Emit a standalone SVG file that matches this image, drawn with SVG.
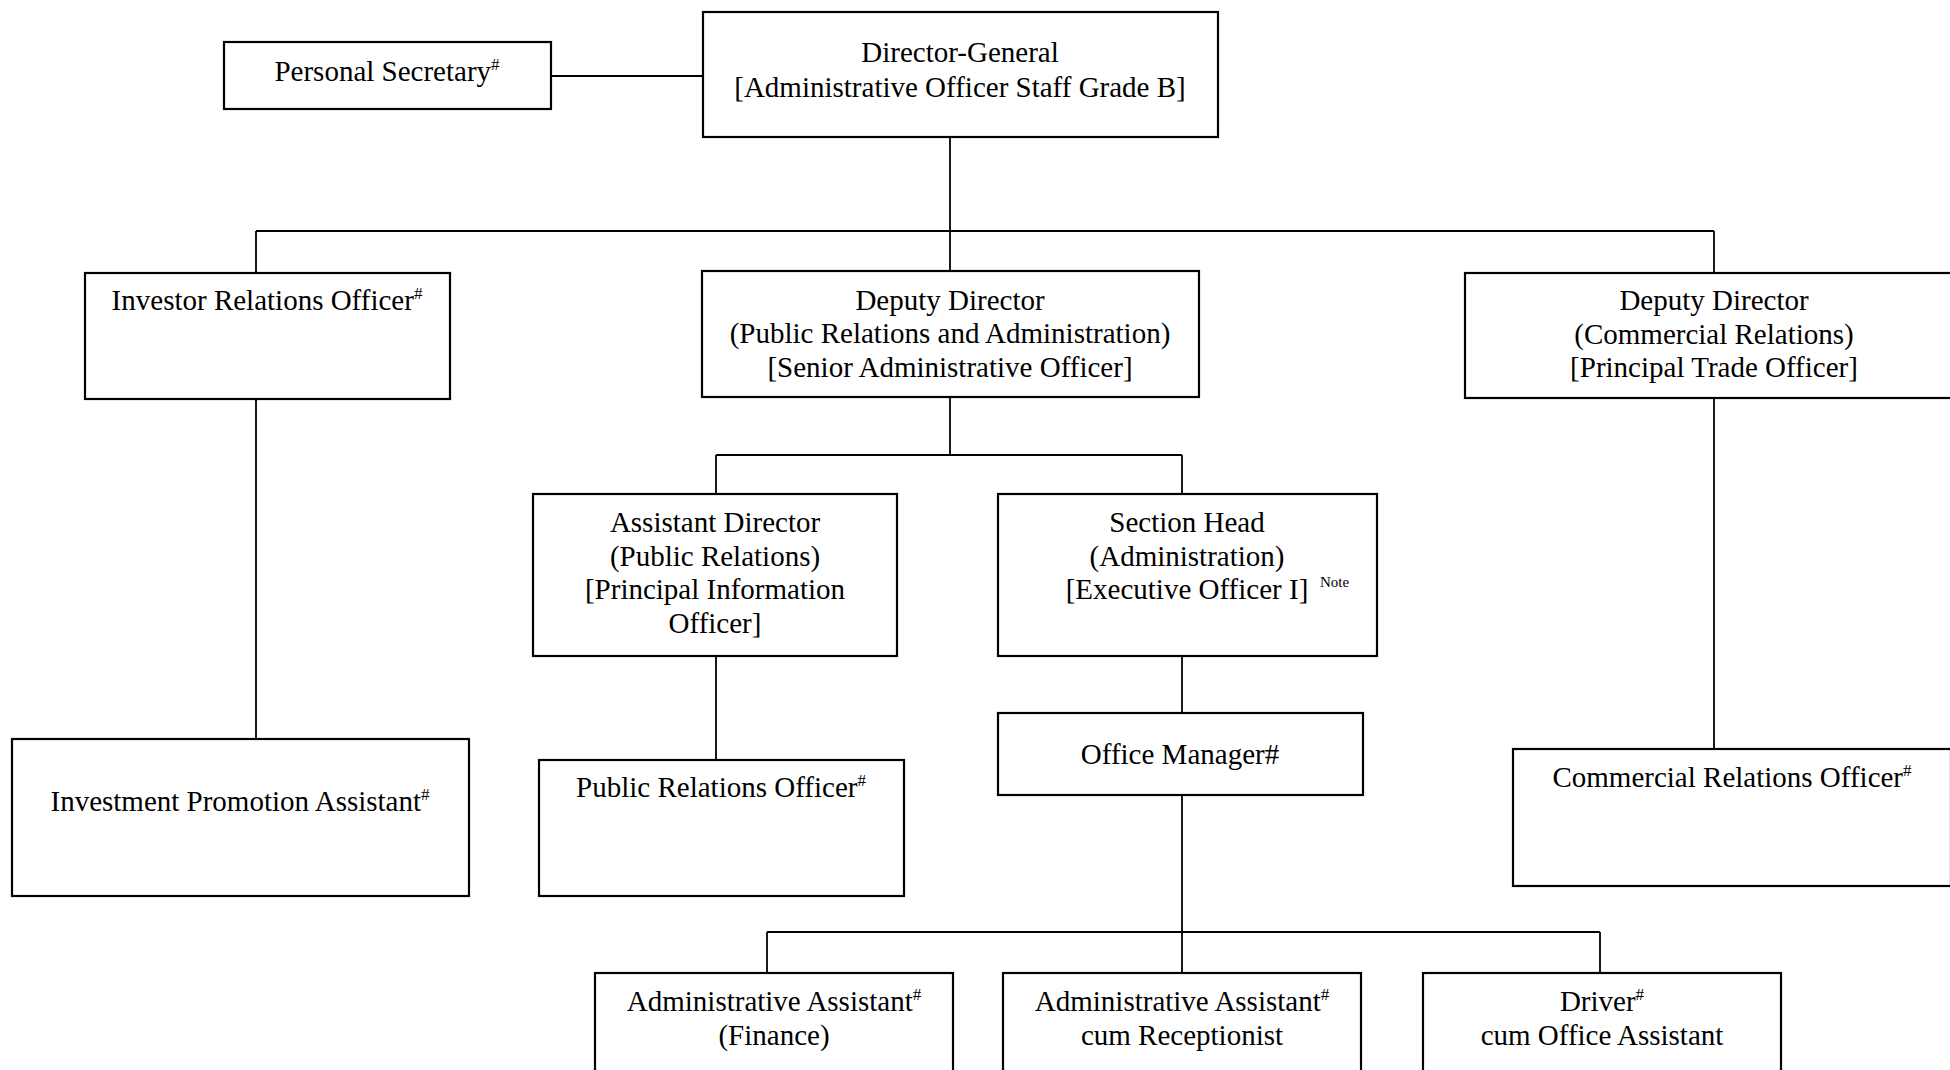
<svg xmlns="http://www.w3.org/2000/svg" width="1950" height="1070" viewBox="0 0 1950 1070">
<style>
  .box { fill: #ffffff; stroke: #000000; stroke-width: 2.2; }
  .conn line { stroke: #000000; stroke-width: 1.8; fill: none; }
  text { font-family: "Liberation Serif", "Times New Roman", serif; font-size: 29px; fill: #000000; }
  .c { text-anchor: middle; }
  .sup { font-size: 17px; }
  .note { font-size: 15px; }
</style>
<rect x="0" y="0" width="1950" height="1070" fill="#ffffff"/>
<g id="connectors" class="conn">
  <line x1="551" y1="76" x2="703" y2="76"/>
  <line x1="950" y1="137" x2="950" y2="231"/>
  <line x1="256" y1="231" x2="1714" y2="231"/>
  <line x1="256" y1="231" x2="256" y2="273"/>
  <line x1="950" y1="231" x2="950" y2="271"/>
  <line x1="1714" y1="231" x2="1714" y2="273"/>
  <line x1="256" y1="399" x2="256" y2="739"/>
  <line x1="950" y1="397" x2="950" y2="455"/>
  <line x1="716" y1="455" x2="1182" y2="455"/>
  <line x1="716" y1="455" x2="716" y2="494"/>
  <line x1="1182" y1="455" x2="1182" y2="494"/>
  <line x1="716" y1="656" x2="716" y2="760"/>
  <line x1="1182" y1="656" x2="1182" y2="713"/>
  <line x1="1182" y1="795" x2="1182" y2="932"/>
  <line x1="767" y1="932" x2="1600" y2="932"/>
  <line x1="767" y1="932" x2="767" y2="973"/>
  <line x1="1182" y1="932" x2="1182" y2="973"/>
  <line x1="1600" y1="932" x2="1600" y2="973"/>
  <line x1="1714" y1="398" x2="1714" y2="749"/>
</g>
<g id="personal-secretary">
  <rect class="box" x="224" y="42" width="327" height="67"/>
  <text class="c" x="387" y="81">Personal Secretary<tspan class="sup" dy="-11">#</tspan></text>
</g>
<g id="director-general">
  <rect class="box" x="703" y="12" width="515" height="125"/>
  <text class="c" x="960" y="62">Director-General</text>
  <text class="c" x="960" y="97">[Administrative Officer Staff Grade B]</text>
</g>
<g id="investor-relations-officer">
  <rect class="box" x="85" y="273" width="365" height="126"/>
  <text class="c" x="267" y="310">Investor Relations Officer<tspan class="sup" dy="-11">#</tspan></text>
</g>
<g id="deputy-director-pra">
  <rect class="box" x="702" y="271" width="497" height="126"/>
  <text class="c" x="950" y="309.5">Deputy Director</text>
  <text class="c" x="950" y="343">(Public Relations and Administration)</text>
  <text class="c" x="950" y="376.5">[Senior Administrative Officer]</text>
</g>
<g id="deputy-director-cr">
  <rect class="box" x="1465" y="273" width="498" height="125"/>
  <text class="c" x="1714" y="310">Deputy Director</text>
  <text class="c" x="1714" y="343.5">(Commercial Relations)</text>
  <text class="c" x="1714" y="377">[Principal Trade Officer]</text>
</g>
<g id="assistant-director-pr">
  <rect class="box" x="533" y="494" width="364" height="162"/>
  <text class="c" x="715" y="532">Assistant Director</text>
  <text class="c" x="715" y="565.5">(Public Relations)</text>
  <text class="c" x="715" y="599">[Principal Information</text>
  <text class="c" x="715" y="632.5">Officer]</text>
</g>
<g id="section-head-admin">
  <rect class="box" x="998" y="494" width="379" height="162"/>
  <text class="c" x="1187" y="532">Section Head</text>
  <text class="c" x="1187" y="565.5">(Administration)</text>
  <text class="c" x="1187" y="599">[Executive Officer I]</text>
  <text class="note" x="1320" y="587">Note</text>
</g>
<g id="investment-promotion-assistant">
  <rect class="box" x="12" y="739" width="457" height="157"/>
  <text class="c" x="240" y="811">Investment Promotion Assistant<tspan class="sup" dy="-11">#</tspan></text>
</g>
<g id="public-relations-officer">
  <rect class="box" x="539" y="760" width="365" height="136"/>
  <text class="c" x="721" y="797">Public Relations Officer<tspan class="sup" dy="-11">#</tspan></text>
</g>
<g id="office-manager">
  <rect class="box" x="998" y="713" width="365" height="82"/>
  <text class="c" x="1180" y="764">Office Manager#</text>
</g>
<g id="commercial-relations-officer">
  <rect class="box" x="1513" y="749" width="438" height="137"/>
  <text class="c" x="1732" y="787">Commercial Relations Officer<tspan class="sup" dy="-11">#</tspan></text>
</g>
<g id="admin-assistant-finance">
  <rect class="box" x="595" y="973" width="358" height="130"/>
  <text class="c" x="774" y="1011">Administrative Assistant<tspan class="sup" dy="-11">#</tspan></text>
  <text class="c" x="774" y="1045">(Finance)</text>
</g>
<g id="admin-assistant-receptionist">
  <rect class="box" x="1003" y="973" width="358" height="130"/>
  <text class="c" x="1182" y="1011">Administrative Assistant<tspan class="sup" dy="-11">#</tspan></text>
  <text class="c" x="1182" y="1045">cum Receptionist</text>
</g>
<g id="driver">
  <rect class="box" x="1423" y="973" width="358" height="130"/>
  <text class="c" x="1602" y="1011">Driver<tspan class="sup" dy="-11">#</tspan></text>
  <text class="c" x="1602" y="1045">cum Office Assistant</text>
</g>
</svg>
